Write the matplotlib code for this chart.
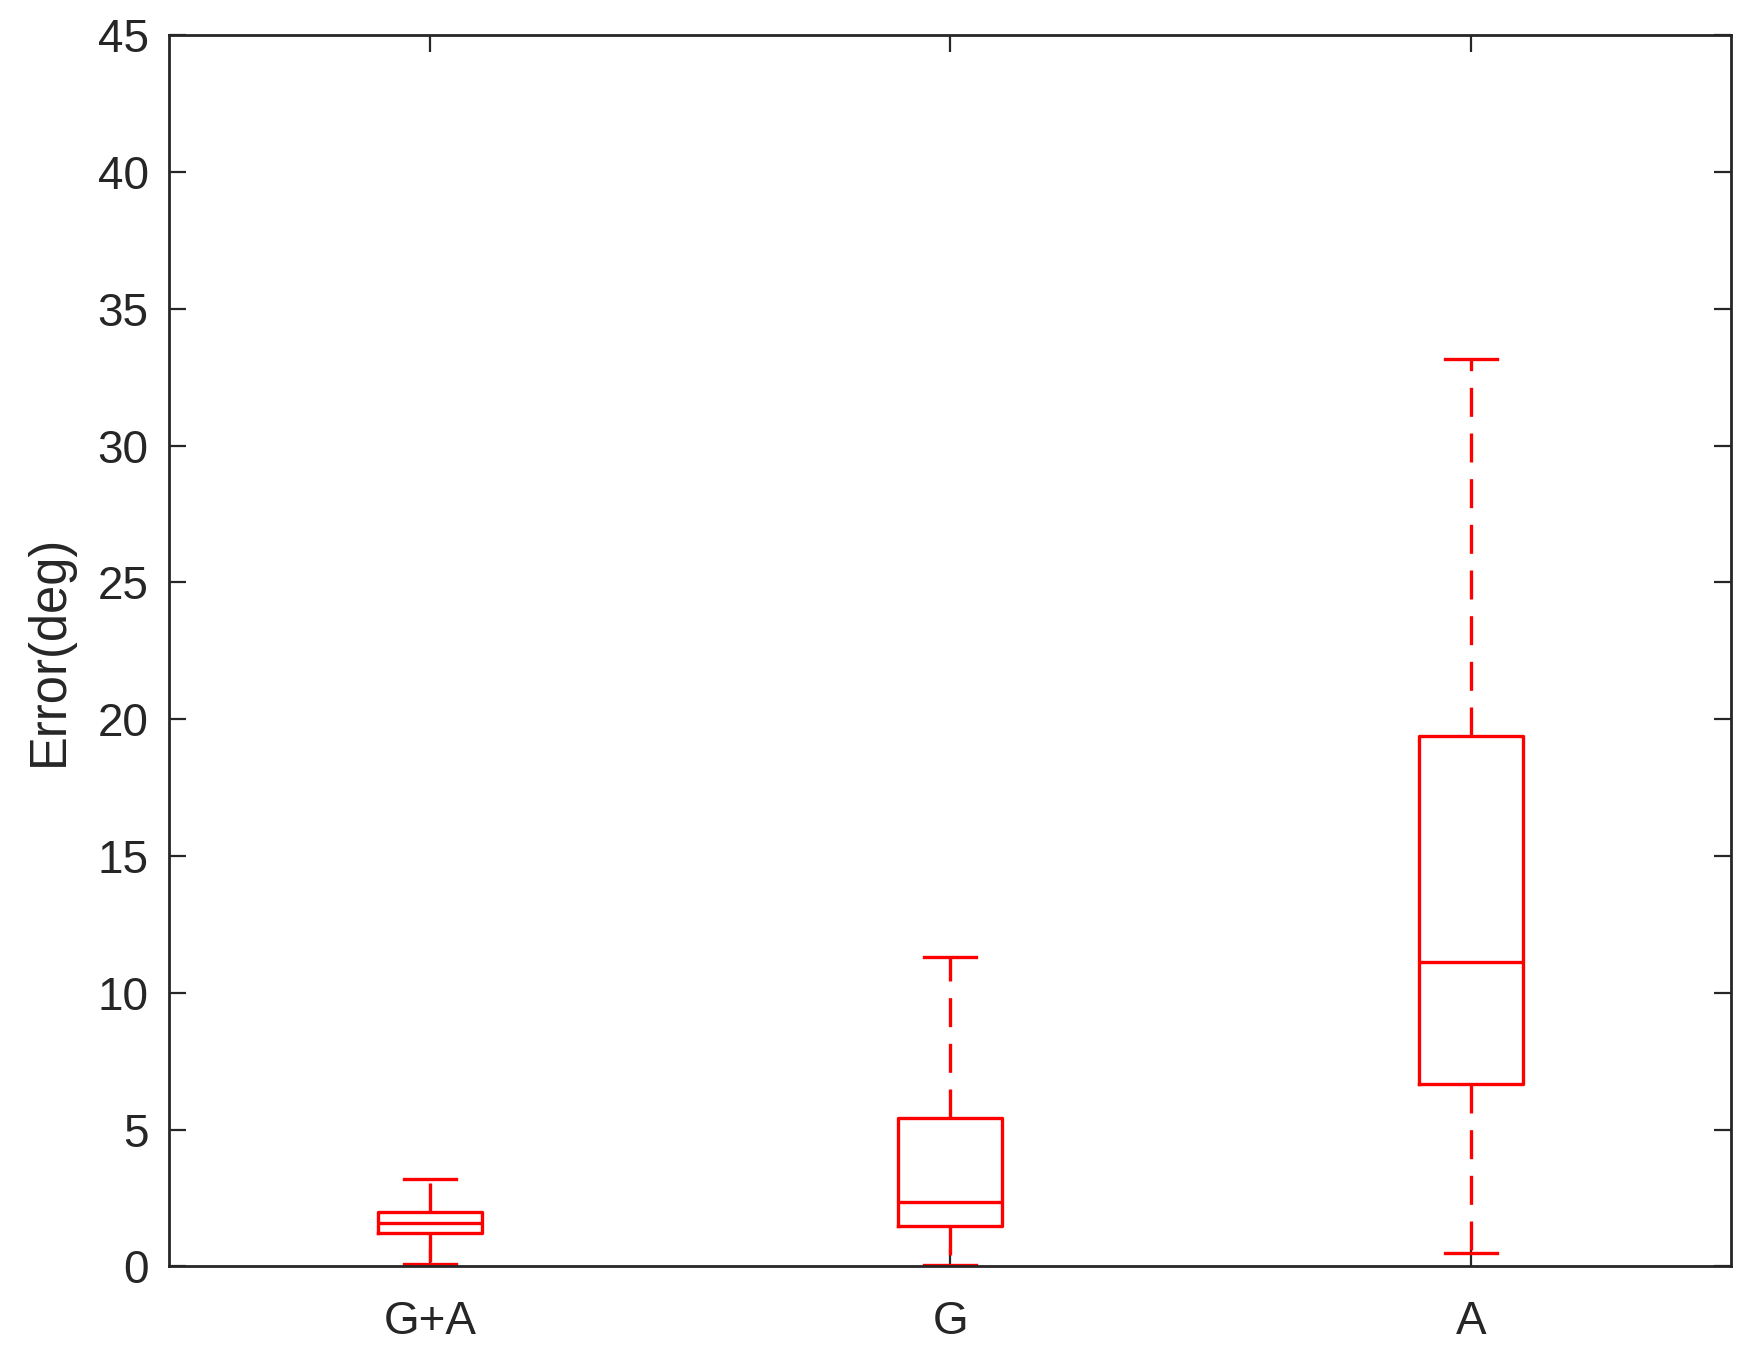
import matplotlib
matplotlib.use("Agg")
import matplotlib.pyplot as plt

plt.rcParams['font.family'] = ['Liberation Sans', 'DejaVu Sans']

categories = ["G+A", "G", "A"]
whisker_low = [0.10, 0.05, 0.50]
q1 = [1.21, 1.48, 6.66]
median = [1.60, 2.37, 11.11]
q3 = [2.00, 5.41, 19.37]
whisker_high = [3.20, 11.32, 33.15]
yticks = [0, 5, 10, 15, 20, 25, 30, 35, 40, 45]

stats = []
for i, c in enumerate(categories):
    stats.append(dict(label=c, whislo=whisker_low[i], q1=q1[i], med=median[i],
                      q3=q3[i], whishi=whisker_high[i], fliers=[]))

fig = plt.figure(figsize=(17.51, 13.58), dpi=100)
ax = fig.add_axes([0.0968, 0.0674, 0.9886 - 0.0968, 0.9742 - 0.0674])

red = '#ff0000'
lw = 2.4
ax.bxp(stats, positions=[1, 2, 3], widths=0.2, showfliers=False,
       boxprops=dict(color=red, linewidth=lw),
       medianprops=dict(color=red, linewidth=lw),
       whiskerprops=dict(color=red, linewidth=lw, linestyle=(0, (8.7, 5.0))),
       capprops=dict(color=red, linewidth=lw))

ax.set_xlim(0.5, 3.5)
ax.set_ylim(0, 45)
ax.set_yticks(yticks)
ax.set_yticklabels([str(t) for t in yticks])
dark = '#262626'
for s in ax.spines.values():
    s.set_linewidth(2.0)
    s.set_color(dark)
ax.tick_params(direction='in', length=12.5, width=1.6, colors=dark,
               labelsize=33, top=True, right=True)
ax.tick_params(axis='x', pad=24)
ax.tick_params(axis='y', pad=15)
ax.set_ylabel("Error(deg)", fontsize=36.5, color=dark, labelpad=17)

fig.savefig("out.png", dpi=100)
